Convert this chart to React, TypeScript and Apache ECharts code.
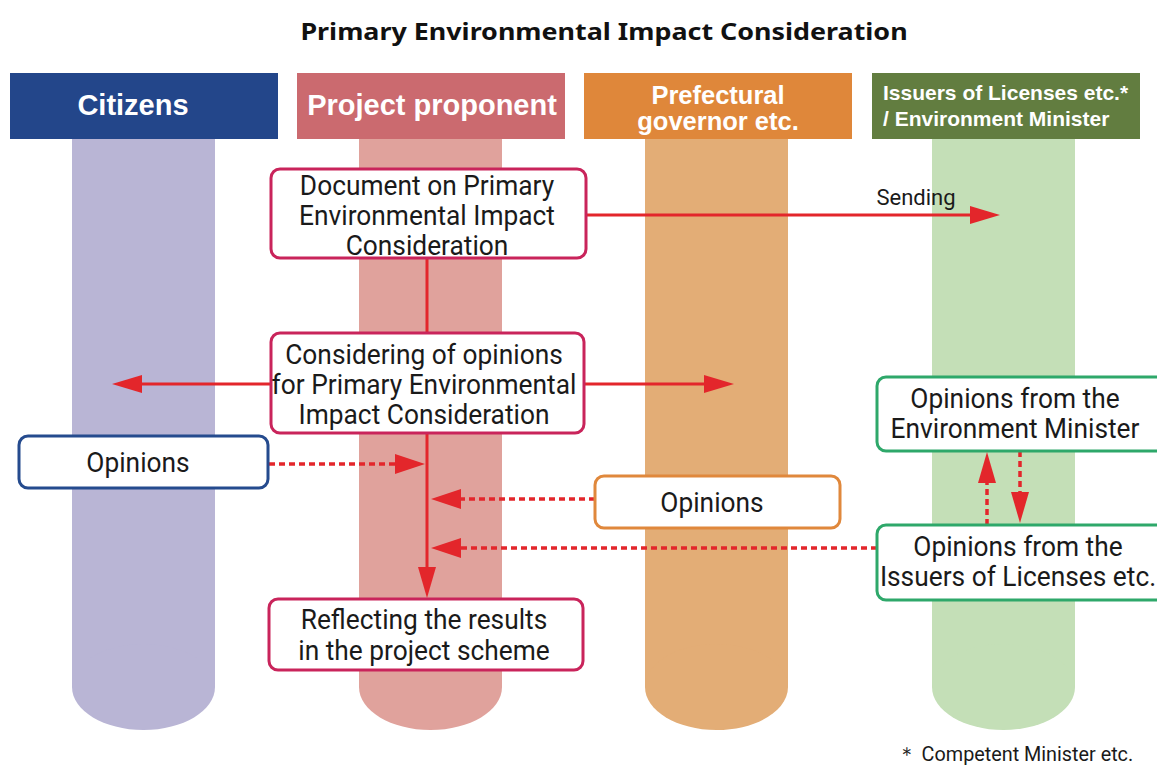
import React, { useEffect, useRef } from "react";
import * as echarts from "echarts";

const TITLE = "Primary Environmental Impact Consideration";
const LANE_NAMES: string[][] = [
  ["Citizens"],
  ["Project proponent"],
  ["Prefectural", "governor etc."],
  ["Issuers of Licenses etc.*", "/ Environment Minister"],
];
const LANE_HEADER_COLORS = ["#23468A", "#CB6A6F", "#DF873A", "#627D40"];
const LANE_PILLAR_COLORS = ["#B9B5D5", "#E0A29C", "#E3AD76", "#C4DFB7"];

const BOX_LABELS: string[][] = [
  ["Document on Primary", "Environmental Impact", "Consideration"],
  ["Considering of opinions", "for Primary Environmental", "Impact Consideration"],
  ["Opinions"],
  ["Opinions"],
  ["Reflecting the results", "in the project scheme"],
  ["Opinions from the", "Environment Minister"],
  ["Opinions from the", "Issuers of Licenses etc."],
];
const BOX_COLORS = ["#C9245B", "#C9245B", "#254B8E", "#E0883C", "#C9245B", "#2EA86A", "#2EA86A"];
const SENDING_LABEL = "Sending";
const FOOTNOTE = "＊ Competent Minister etc.";

const RED = "#E3262B";

// layout (pixels)
const HEADER_X = [10, 297, 584, 872];
const HEADER_W = 268;
const HEADER_Y = 73;
const HEADER_H = 66;
const PILLAR_X = [72, 359, 645, 932];
const PILLAR_W = 143;
const PILLAR_BOTTOM = 687;
const PILLAR_RY = 43;
// box layout: x, y, w, h, text center x, first line y, line height
const BOX_LAYOUT = [
  [271, 169, 315, 89, 427, 186, 30],
  [271, 333, 313, 100, 424, 355, 30],
  [19, 436, 249, 52, 138, 463, 30],
  [595, 476, 245, 52, 712, 503, 30],
  [269, 599, 314, 71, 424, 620, 31],
  [877, 377, 290, 74, 1015, 399, 30],
  [877, 525, 290, 75, 1018, 547, 30],
];
const HEADER_TEXT = [
  { x: 133, y: [105], size: 29, align: "center" },
  { x: 432, y: [105], size: 29, align: "center" },
  { x: 718, y: [95, 121], size: 25.5, align: "center" },
  { x: 883, y: [92, 118], size: 21, align: "left" },
];

const BOX_FONT = "Roboto";
const BOX_SCALE = 0.975;

function textEl(text: string, x: number, y: number, size: number, opts: any = {}) {
  return {
    type: "text",
    x,
    y,
    scaleX: opts.scaleX ?? 1,
    z: opts.z ?? 10,
    style: {
      text,
      x: 0,
      y: 0,
      fill: opts.fill ?? "#1a1a1a",
      fontSize: size,
      fontFamily: opts.family ?? BOX_FONT,
      fontWeight: opts.weight ?? "normal",
      align: opts.align ?? "center",
      verticalAlign: "middle",
    },
  };
}

function arrowHead(tipX: number, tipY: number, dir: "left" | "right" | "up" | "down", len = 30, half = 9) {
  let pts: number[][];
  if (dir === "right") pts = [[tipX, tipY], [tipX - len, tipY - half], [tipX - len, tipY + half]];
  else if (dir === "left") pts = [[tipX, tipY], [tipX + len, tipY - half], [tipX + len, tipY + half]];
  else if (dir === "down") pts = [[tipX, tipY], [tipX - half, tipY - len], [tipX + half, tipY - len]];
  else pts = [[tipX, tipY], [tipX - half, tipY + len], [tipX + half, tipY + len]];
  return { type: "polygon", z: 8, shape: { points: pts }, style: { fill: RED } };
}

function lineEl(x1: number, y1: number, x2: number, y2: number, dashed: boolean) {
  return {
    type: "line",
    z: 5,
    shape: { x1, y1, x2, y2 },
    style: {
      stroke: RED,
      lineWidth: dashed ? 3.5 : 3,
      lineDash: dashed ? [6, 4] : null,
    },
  };
}

export default function App() {
  const ref = useRef<HTMLDivElement>(null);
  useEffect(() => {
    if (!ref.current) return;
    const chart = echarts.init(ref.current, null, { renderer: "svg" });
    const els: any[] = [];

    // title
    els.push(textEl(TITLE, 604, 31, 24, { weight: "bold", family: "Noto Sans", fill: "#111", scaleX: 1.12 }));

    // lanes
    LANE_NAMES.forEach((lines, i) => {
      const px = PILLAR_X[i];
      els.push({ type: "rect", z: 1, shape: { x: px, y: HEADER_Y + HEADER_H - 1, width: PILLAR_W, height: PILLAR_BOTTOM - (HEADER_Y + HEADER_H) + 1 }, style: { fill: LANE_PILLAR_COLORS[i] } });
      els.push({ type: "ellipse", z: 1, shape: { cx: px + PILLAR_W / 2, cy: PILLAR_BOTTOM, rx: PILLAR_W / 2, ry: PILLAR_RY }, style: { fill: LANE_PILLAR_COLORS[i] } });
      els.push({ type: "rect", z: 2, shape: { x: HEADER_X[i], y: HEADER_Y, width: HEADER_W, height: HEADER_H }, style: { fill: LANE_HEADER_COLORS[i] } });
      const ht = HEADER_TEXT[i];
      lines.forEach((t, j) => {
        els.push(textEl(t, ht.x, ht.y[j], ht.size, { weight: "bold", family: "Liberation Sans", fill: "#fff", align: ht.align }));
      });
    });

    // connectors
    els.push(lineEl(586, 215, 975, 215, false));
    els.push(arrowHead(1000, 215, "right"));
    els.push(textEl(SENDING_LABEL, 916, 197, 22, { scaleX: 1.0 }));

    els.push(lineEl(427, 258, 427, 333, false));
    els.push(lineEl(427, 433, 427, 575, false));
    els.push(arrowHead(427, 598, "down", 31, 9));

    els.push(lineEl(271, 384, 138, 384, false));
    els.push(arrowHead(112, 384, "left"));
    els.push(lineEl(584, 384, 708, 384, false));
    els.push(arrowHead(734, 384, "right"));

    els.push(lineEl(269, 464, 398, 464, true));
    els.push(arrowHead(425, 464, "right", 30, 10));
    els.push(lineEl(595, 499, 458, 499, true));
    els.push(arrowHead(431, 499, "left", 30, 10));
    els.push(lineEl(877, 548, 458, 548, true));
    els.push(arrowHead(431, 548, "left", 30, 10));

    els.push(lineEl(987, 525, 987, 480, true));
    els.push(arrowHead(987, 452, "up", 31, 9));
    els.push(lineEl(1020, 451, 1020, 495, true));
    els.push(arrowHead(1020, 523, "down", 31, 9));

    // boxes
    BOX_LABELS.forEach((lines, i) => {
      const [x, y, w, h, cx, ly, lh] = BOX_LAYOUT[i];
      els.push({ type: "rect", z: 6, shape: { x, y, width: w, height: h, r: 9 }, style: { fill: "#fff", stroke: BOX_COLORS[i], lineWidth: 3 } });
      lines.forEach((t, j) => {
        els.push(textEl(t, cx, ly + j * lh, 27, { scaleX: BOX_SCALE }));
      });
    });

    els.push(textEl(FOOTNOTE, 1015, 754, 20, { scaleX: 0.99 }));

    chart.setOption({ animation: false, graphic: { elements: els } });
    return () => chart.dispose();
  }, []);
  return <div ref={ref} style={{ position: "fixed", left: 0, top: 0, width: 1157, height: 766, background: "#fff" }} />;
}
